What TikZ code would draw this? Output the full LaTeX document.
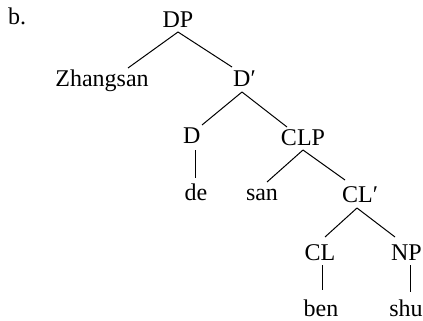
\documentclass[tikz,border=0pt]{standalone}
\usepackage{fontspec}
\setmainfont{Liberation Serif}
\begin{document}
\begin{tikzpicture}[x=1pt,y=-1pt,
  lbl/.style={inner sep=0pt, anchor=base, font=\fontsize{24}{28}\selectfont},
  branch/.style={line width=1pt}]
\useasboundingbox (0,0) rectangle (423,321);
% labels
\node[lbl, anchor=base west] (b) at (8,25) {b.};
\node[lbl] (dp) at (178,28) {DP};
\node[lbl] (zh) at (102,86) {Zhangsan};
\node[lbl, anchor=base west] (dbar) at (233,87) {D′};
\node[lbl, anchor=base west] (d) at (183,143) {D};
\node[lbl] (clp) at (303,145) {CLP};
\node[lbl] (de) at (196,200) {de};
\node[lbl] (san) at (262,200) {san};
\node[lbl, anchor=base west] (clbar) at (342,202) {CL′};
\node[lbl] (cl) at (320,260) {CL};
\node[lbl] (np) at (406.5,260) {NP};
\node[lbl] (ben) at (321,316) {ben};
\node[lbl] (shu) at (406,316) {shu};
% branches
\draw[branch] ([shift={(0,4)}]dp.base) -- ([shift={(26,-18)}]zh.base);
\draw[branch] ([shift={(0,4)}]dp.base) -- ([shift={(-1,-20)}]dbar.base west);
\draw[branch] ([shift={(9,5)}]dbar.base west) -- ([shift={(19,-18)}]d.base west);
\draw[branch] ([shift={(9,5)}]dbar.base west) -- ([shift={(-16,-18)}]clp.base);
\draw[branch] ([shift={(12,7)}]d.base west) -- ([shift={(-1,-22)}]de.base);
\draw[branch] ([shift={(0,5)}]clp.base) -- ([shift={(5,-18)}]san.base);
\draw[branch] ([shift={(0,5)}]clp.base) -- ([shift={(3,-22)}]clbar.base west);
\draw[branch] ([shift={(15,6)}]clbar.base west) -- ([shift={(5,-23)}]cl.base);
\draw[branch] ([shift={(15,6)}]clbar.base west) -- ([shift={(-11.5,-23)}]np.base);
\draw[branch] ([shift={(2,5)}]cl.base) -- ([shift={(1,-26)}]ben.base);
\draw[branch] ([shift={(3.5,5)}]np.base) -- ([shift={(4,-24)}]shu.base);
\end{tikzpicture}
\end{document}
